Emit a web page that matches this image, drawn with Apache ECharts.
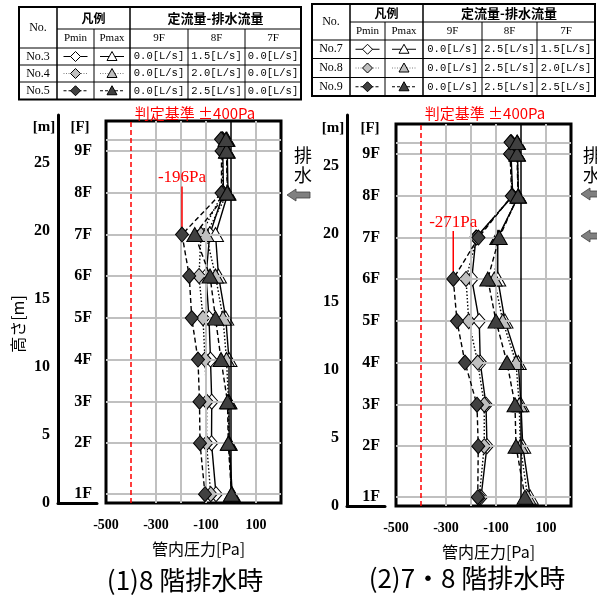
<!DOCTYPE html>
<html><head><meta charset="utf-8">
<script src="https://cdn.jsdelivr.net/npm/echarts@6/dist/echarts.min.js"></script>
<style>html,body{margin:0;padding:0;background:#fff}#c{width:597px;height:599px}</style>
</head><body><div id="c"></div>
<script>
// ---------------- DATA ----------------
const floorNames = ['1F','2F','3F','4F','5F','6F','7F','8F','9F'];
const floorHeights = [0.65, 4.4, 7.45, 10.55, 13.6, 16.7, 19.75, 22.8, 25.9];
const topHeight = 26.75;            // top measuring point above 9F
const xTickLabels = [-500, -300, -100, 100];
const gridXValues = [-300, -200, -100, 100];
const criterion = -400;

// Left chart: (1) 8F drainage. Order: 1F..9F, top
const leftCases = ['No.3', 'No.4', 'No.5'];
const leftFlows = [[0.0, 1.5, 0.0], [0.0, 2.0, 0.0], [0.0, 2.5, 0.0]];
const leftPminNo3 = [-60, -78, -77, -82, -88, -100, -85, -30, -33, -33];
const leftPminNo4 = [-81, -98, -97, -104, -112, -128, -120, -33, -35, -36];
const leftPminNo5 = [-104, -124, -126, -132, -157, -167, -196, -38, -38, -40];
const leftPmaxNo3 = [5, -7, -8, -8, -21, -50, -62, -12, -15, -16];
const leftPmaxNo4 = [3, -9, -10, -18, -32, -62, -100, -14, -17, -18];
const leftPmaxNo5 = [2, -11, -14, -40, -62, -84, -145, -15, -18, -20];

// Right chart: (2) 7F & 8F drainage
const rightCases = ['No.7', 'No.8', 'No.9'];
const rightFlows = [[0.0, 2.5, 1.5], [0.0, 2.5, 2.0], [0.0, 2.5, 2.5]];
const rightPminNo7 = [-160, -136, -140, -163, -167, -197, -180, -33, -40, -38];
const rightPminNo8 = [-167, -147, -147, -173, -209, -220, -177, -35, -42, -40];
const rightPminNo9 = [-173, -171, -176, -224, -256, -271, -170, -37, -44, -42];
const rightPmaxNo7 = [37, 7, 0, -11, -64, -93, -93, -10, -14, -14];
const rightPmaxNo8 = [27, -3, -7, -20, -73, -107, -90, -11, -15, -15];
const rightPmaxNo9 = [16, -20, -24, -56, -100, -133, -87, -12, -16, -16];

// ---------------- STYLE / LAYOUT ----------------
const pointHeights = floorHeights.concat([topHeight]);
const caseStyles = [
  {fill: '#ffffff', dash: 'solid', leg: '#000'},
  {fill: '#bfbfbf', dash: [1.5, 2], leg: '#7f7f7f'},
  {fill: '#404040', dash: [5, 3], leg: '#000'}
];
const PX_PER_M = 382 / 28.1;
const SERIF = 'Liberation Serif';
const GOTH = 'Noto Sans CJK JP';

const L = {plot: {left: 106, top: 121, width: 175, height: 382}, meter: {left: 58, top: 115, width: 39, height: 388}};
const R = {plot: {left: 396, top: 124, width: 175, height: 382}, meter: {left: 347, top: 115, width: 38, height: 391}};

function dataSeries(vals, isMin, ci, xi, yi, annotate) {
  const st = caseStyles[ci];
  const data = vals.map((v, i) => [v, pointHeights[i]]);
  const s = {
    type: 'line', xAxisIndex: xi, yAxisIndex: yi, data: data, z: 3 + ci,
    symbol: isMin ? 'diamond' : 'triangle',
    symbolSize: isMin ? [13, 15] : [16, 14],
    showAllSymbol: true, silent: true, animation: false,
    lineStyle: {color: '#000', width: 1.4, type: st.dash},
    itemStyle: {color: st.fill, borderColor: '#000', borderWidth: 1},
    emphasis: {disabled: true}
  };
  if (annotate) {
    const k = vals.indexOf(Math.min.apply(null, vals));
    data[k] = {value: data[k], label: {show: true, position: 'top', distance: 4,
      formatter: p => p.value[0] + 'Pa', color: '#ff0000', fontFamily: SERIF, fontSize: 17}};
    s.labelLayout = {dy: -36};
    s.labelLine = {show: true, lineStyle: {color: '#ff0000', width: 1.5}};
  }
  return s;
}

function gridSeries(xi, yi) {
  return {
    type: 'line', xAxisIndex: xi, yAxisIndex: yi, data: [], z: 1, silent: true,
    markLine: {
      silent: true, symbol: 'none', animation: false, label: {show: false},
      lineStyle: {color: '#c0c0c0', width: 2, type: 'solid'},
      data: pointHeights.map(h => ({yAxis: h}))
        .concat(gridXValues.map(v => ({xAxis: v})))
        .concat([
          {xAxis: criterion, lineStyle: {color: '#ff0000', width: 1.5, type: [5, 3]}},
          {xAxis: 0, lineStyle: {color: '#000', width: 1.5, type: 'solid'}}
        ])
    }
  };
}

function plotX(gi) {
  return {
    gridIndex: gi, type: 'value', min: -500, max: 200, interval: 100,
    axisLine: {show: false}, axisTick: {show: false}, splitLine: {show: false},
    axisLabel: {formatter: v => xTickLabels.indexOf(v) >= 0 ? String(v) : '',
      fontFamily: SERIF, fontWeight: 'bold', fontSize: 14, color: '#000', margin: 15},
    name: '管内圧力[Pa]', nameLocation: 'middle', nameGap: 38,
    nameTextStyle: {fontFamily: GOTH, fontSize: 16, color: '#000', padding: [0, 0, 0, 10]}
  };
}
function meterX(gi) {
  return {gridIndex: gi, type: 'value', min: 0, max: 1,
    axisLine: {show: true, onZero: false, lineStyle: {color: '#000', width: 3}},
    axisTick: {show: false}, axisLabel: {show: false}, splitLine: {show: false}};
}
function meterY(gi, h, withName) {
  const o = {gridIndex: gi, type: 'value', min: 0, max: h / PX_PER_M, interval: 5,
    axisLine: {show: true, onZero: false, lineStyle: {color: '#000', width: 3}},
    axisTick: {show: false}, splitLine: {show: false},
    axisLabel: {showMaxLabel: false, fontFamily: SERIF, fontWeight: 'bold', fontSize: 16, color: '#000', margin: 8}};
  if (withName) {
    o.name = '高さ[m]'; o.nameLocation = 'middle'; o.nameGap = 32;
    o.nameTextStyle = {fontFamily: GOTH, fontSize: 16, color: '#000', padding: [0, 30, 0, 0]};
  }
  return o;
}
function floorY(gi, h) {
  return {gridIndex: gi, type: 'value', min: 0, max: h / PX_PER_M, position: 'right',
    axisLine: {show: false}, axisTick: {show: false}, splitLine: {show: false},
    axisLabel: {inside: true, margin: 5, customValues: floorHeights,
      formatter: v => {
        let b = 0;
        floorHeights.forEach((f, i) => { if (Math.abs(f - v) < Math.abs(floorHeights[b] - v)) b = i; });
        return floorNames[b];
      },
      fontFamily: SERIF, fontWeight: 'bold', fontSize: 16, color: '#000', padding: [4, 0, 0, 0]}};
}
function plotY(gi) {
  return {gridIndex: gi, type: 'value', min: 0, max: 28.1, show: false};
}

// ---- tables ----
function txt(x, y, t, font, fill, align) {
  return {type: 'text', x: x, y: y, silent: true,
    style: {text: t, font: font, fill: fill || '#000', align: align || 'center', verticalAlign: 'middle'}};
}
function ln(x1, y1, x2, y2, w, color, dash) {
  return {type: 'line', silent: true, shape: {x1: x1, y1: y1, x2: x2, y2: y2},
    style: {stroke: color || '#000', lineWidth: w || 1, lineDash: dash || null}};
}
function buildTable(xs, ys, names, flows) {
  const els = [];
  els.push({type: 'rect', silent: true, shape: {x: xs[0], y: ys[0], width: xs[6] - xs[0], height: ys[5] - ys[0]},
    style: {fill: '#fff', stroke: '#000', lineWidth: 2}});
  els.push(ln(xs[1], ys[1], xs[6], ys[1], 1));
  for (let r = 2; r <= 4; r++) els.push(ln(xs[0], ys[r], xs[6], ys[r], 1));
  els.push(ln(xs[1], ys[0], xs[1], ys[5], 1.5));
  els.push(ln(xs[3], ys[0], xs[3], ys[5], 1.5));
  [2, 4, 5].forEach(c => els.push(ln(xs[c], ys[1], xs[c], ys[5], 1)));
  const cx = c => (xs[c] + xs[c + 1]) / 2, cy = r => (ys[r] + ys[r + 1]) / 2;
  els.push(txt(cx(0), (ys[0] + ys[2]) / 2, 'No.', '12px ' + SERIF));
  els.push(txt((xs[1] + xs[3]) / 2, cy(0), '凡例', 'bold 12px "' + GOTH + '"'));
  els.push(txt((xs[3] + xs[6]) / 2, cy(0), '定流量-排水流量', 'bold 13px "' + GOTH + '"'));
  ['Pmin', 'Pmax', '9F', '8F', '7F'].forEach((t, i) => els.push(txt(cx(i + 1), cy(1), t, '11px ' + SERIF)));
  names.forEach((n, i) => {
    const r = i + 2, y = cy(r), st = caseStyles[i];
    els.push(txt(cx(0), y, n, '12px ' + SERIF));
    [1, 2].forEach(c => {
      const x = cx(c);
      els.push(ln(x - 12, y, x + 12, y, 1, st.leg, st.dash === 'solid' ? null : (i === 1 ? [1, 1.5] : [3, 2])));
      const pts = c === 1 ? [[x, y - 5], [x + 5, y], [x, y + 5], [x - 5, y]] : [[x, y - 5], [x + 5, y + 4], [x - 5, y + 4]];
      els.push({type: 'polygon', silent: true, shape: {points: pts}, style: {fill: st.fill, stroke: '#000', lineWidth: 1}});
    });
    flows[i].forEach((f, j) => els.push(txt(cx(j + 3), y, f.toFixed(1) + '[L/s]', '10.5px "Liberation Mono"')));
  });
  return els;
}
function arrow(tipX, y, endX) {
  return {type: 'polygon', silent: true,
    shape: {points: [[tipX, y], [tipX + 9, y - 6], [tipX + 9, y - 3], [endX, y - 3], [endX, y + 3], [tipX + 9, y + 3], [tipX + 9, y + 6]]},
    style: {fill: '#808080', stroke: '#404040', lineWidth: 0.8}};
}

const graphics = []
  .concat(buildTable([19, 57, 94, 130, 188, 245, 301], [7, 29, 48, 65, 82, 99.5], leftCases, leftFlows))
  .concat(buildTable([312, 350, 385, 423, 482, 537, 595], [4, 22, 40, 58.5, 77.5, 96], rightCases, rightFlows))
  .concat([
    txt(44, 127, '[m]', 'bold 15px ' + SERIF), txt(80, 127, '[F]', 'bold 15px ' + SERIF),
    txt(333, 128, '[m]', 'bold 15px ' + SERIF), txt(370, 128, '[F]', 'bold 15px ' + SERIF),
    txt(195, 113, '判定基準 ±400Pa', '15px "' + GOTH + '"', '#ff0000'),
    txt(485, 113, '判定基準 ±400Pa', '15px "' + GOTH + '"', '#ff0000'),
    {type: 'text', x: 303, y: 145, silent: true, style: {text: '排\n水', font: '18px "' + GOTH + '"', lineHeight: 20, fill: '#000', align: 'center', verticalAlign: 'top'}},
    {type: 'text', x: 592, y: 145, silent: true, style: {text: '排\n水', font: '18px "' + GOTH + '"', lineHeight: 20, fill: '#000', align: 'center', verticalAlign: 'top'}},
    arrow(287, 195, 310), arrow(581, 194, 600), arrow(581, 236, 600),
    txt(185, 580, '(1)8 階排水時', '26px "' + GOTH + '"'),
    txt(467, 578, '(2)7・8 階排水時', '26px "' + GOTH + '"')
  ]);

const chart = echarts.init(document.getElementById('c'), null, {renderer: 'canvas'});
chart.setOption({
  animation: false,
  backgroundColor: '#fff',
  grid: [
    Object.assign({show: true, borderColor: '#000', borderWidth: 3, backgroundColor: 'transparent', containLabel: false}, L.plot),
    Object.assign({show: false, containLabel: false}, L.meter),
    Object.assign({show: true, borderColor: '#000', borderWidth: 3, backgroundColor: 'transparent', containLabel: false}, R.plot),
    Object.assign({show: false, containLabel: false}, R.meter)
  ],
  xAxis: [plotX(0), meterX(1), plotX(2), meterX(3)],
  yAxis: [plotY(0), meterY(1, L.meter.height, true), floorY(1, L.meter.height),
          plotY(2), meterY(3, R.meter.height, false), floorY(3, R.meter.height)],
  series: [
    gridSeries(0, 0),
    dataSeries(leftPminNo3, true, 0, 0, 0), dataSeries(leftPmaxNo3, false, 0, 0, 0),
    dataSeries(leftPminNo4, true, 1, 0, 0), dataSeries(leftPmaxNo4, false, 1, 0, 0),
    dataSeries(leftPminNo5, true, 2, 0, 0, true), dataSeries(leftPmaxNo5, false, 2, 0, 0),
    gridSeries(2, 3),
    dataSeries(rightPminNo7, true, 0, 2, 3), dataSeries(rightPmaxNo7, false, 0, 2, 3),
    dataSeries(rightPminNo8, true, 1, 2, 3), dataSeries(rightPmaxNo8, false, 1, 2, 3),
    dataSeries(rightPminNo9, true, 2, 2, 3, true), dataSeries(rightPmaxNo9, false, 2, 2, 3)
  ],
  graphic: graphics
});
</script></body></html>
